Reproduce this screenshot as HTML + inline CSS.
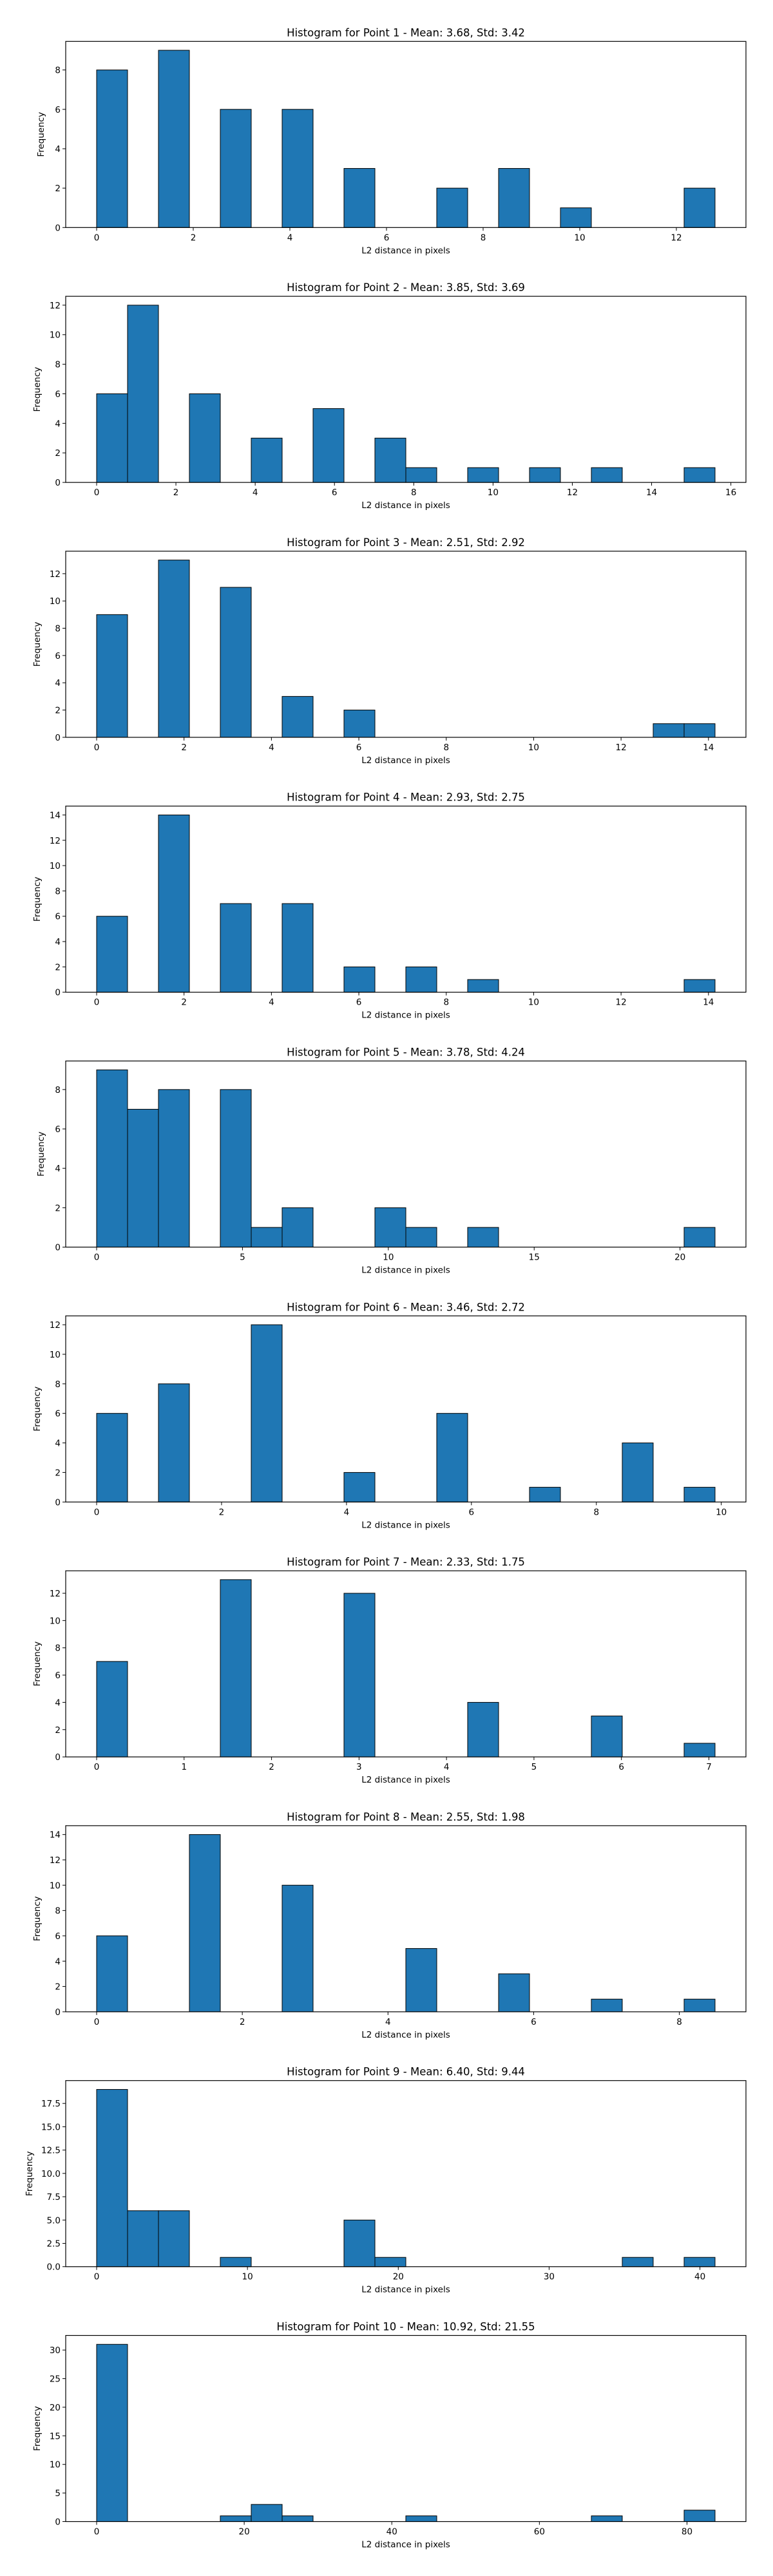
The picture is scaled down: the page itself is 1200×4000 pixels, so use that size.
<!DOCTYPE html>
<html><head><meta charset="utf-8"><style>
body{margin:0;background:#fff;width:1200px;height:4000px;overflow:hidden}
svg{display:block;font-family:"DejaVu Sans","Liberation Sans",sans-serif}
</style></head><body>
<svg id="fig" width="1200" height="4000" xmlns="http://www.w3.org/2000/svg"></svg>
<script>
const titles = ["Histogram for Point 1 - Mean: 3.68, Std: 3.42","Histogram for Point 2 - Mean: 3.85, Std: 3.69","Histogram for Point 3 - Mean: 2.51, Std: 2.92","Histogram for Point 4 - Mean: 2.93, Std: 2.75","Histogram for Point 5 - Mean: 3.78, Std: 4.24","Histogram for Point 6 - Mean: 3.46, Std: 2.72","Histogram for Point 7 - Mean: 2.33, Std: 1.75","Histogram for Point 8 - Mean: 2.55, Std: 1.98","Histogram for Point 9 - Mean: 6.40, Std: 9.44","Histogram for Point 10 - Mean: 10.92, Std: 21.55"];
const dataMax = [12.8, 15.6, 14.15, 14.15, 21.2, 9.9, 7.07, 8.49, 41.0, 83.8];
const counts1 = [8,0,9,0,6,0,6,0,3,0,0,2,0,3,0,1,0,0,0,2];
const counts2 = [6,12,0,6,0,3,0,5,0,3,1,0,1,0,1,0,1,0,0,1];
const counts3 = [9,0,13,0,11,0,3,0,2,0,0,0,0,0,0,0,0,0,1,1];
const counts4 = [6,0,14,0,7,0,7,0,2,0,2,0,1,0,0,0,0,0,0,1];
const counts5 = [9,7,8,0,8,1,2,0,0,2,1,0,1,0,0,0,0,0,0,1];
const counts6 = [6,0,8,0,0,12,0,0,2,0,0,6,0,0,1,0,0,4,0,1];
const counts7 = [7,0,0,0,13,0,0,0,12,0,0,0,4,0,0,0,3,0,0,1];
const counts8 = [6,0,0,14,0,0,10,0,0,0,5,0,0,3,0,0,1,0,0,1];
const counts9 = [19,6,6,0,1,0,0,0,5,1,0,0,0,0,0,0,0,1,0,1];
const counts10 = [31,0,0,0,1,3,1,0,0,0,1,0,0,0,0,0,1,0,0,2];
const allCounts = [counts1,counts2,counts3,counts4,counts5,counts6,counts7,counts8,counts9,counts10];
const xTicks = [[0,2,4,6,8,10,12],[0,2,4,6,8,10,12,14,16],[0,2,4,6,8,10,12,14],[0,2,4,6,8,10,12,14],[0,5,10,15,20],[0,2,4,6,8,10],[0,1,2,3,4,5,6,7],[0,2,4,6,8],[0,10,20,30,40],[0,20,40,60,80]];
const yTicks = [[0,2,4,6,8],[0,2,4,6,8,10,12],[0,2,4,6,8,10,12],[0,2,4,6,8,10,12,14],[0,2,4,6,8],[0,2,4,6,8,10,12],[0,2,4,6,8,10,12],[0,2,4,6,8,10,12,14],[0,2.5,5,7.5,10,12.5,15,17.5],[0,5,10,15,20,25,30]];
const yFmt = [0,0,0,0,0,0,0,0,1,0];

const NS="http://www.w3.org/2000/svg";
const svg=document.getElementById('fig');
function mk(tag,attrs,parent){const e=document.createElementNS(NS,tag);for(const k in attrs)e.setAttribute(k,attrs[k]);(parent||svg).appendChild(e);return e;}
const L=102,R=1158,H=289;
const CX=(L+R)/2;
for(let p=0;p<10;p++){
  const top=64.3+395.8*p, bot=top+H;
  const g=mk('g',{});
  
  
  const c=allCounts[p], mx=dataMax[p];
  const x0=-0.05*mx, x1=mx*1.05;
  const ymax=Math.max(...c)*1.05;
  const sx=v=>L+(v-x0)/(x1-x0)*(R-L);
  const sy=v=>bot-v/ymax*H;
  const bw=mx/20;
  c.forEach((v,i)=>{
    const xa=sx(i*bw), xb=sx((i+1)*bw);
    const r=mk('rect',{x:xa,y:sy(v),width:xb-xa,height:bot-sy(v),fill:'#1f77b4',stroke:'#000','stroke-width':1},g);
    
    
  });
  const fr=mk('rect',{x:L,y:top,width:R-L,height:H,fill:'none',stroke:'#000','stroke-width':1.2},g);
  
  
  xTicks[p].forEach(t=>{
    const x=sx(t);
    mk('line',{x1:x,x2:x,y1:bot,y2:bot+5,stroke:'#000'},g);
    const tx=mk('text',{x:x,y:bot+20,'text-anchor':'middle','font-size':13.5,fill:'#000'},g);
    tx.textContent=t;
    
    
  });
  yTicks[p].forEach(t=>{
    const y=sy(t);
    mk('line',{x1:L-5,x2:L,y1:y,y2:y,stroke:'#000'},g);
    const tx=mk('text',{x:L-8,y:y+5,'text-anchor':'end','font-size':13.5,fill:'#000'},g);
    tx.textContent=yFmt[p]?t.toFixed(1):t;
    
    
  });
  const ti=mk('text',{x:CX,y:top-8,'text-anchor':'middle','font-size':16.5,fill:'#000'},g);
  ti.textContent=titles[p];
  
  
  const xl=mk('text',{x:CX,y:bot+40,'text-anchor':'middle','font-size':13.5,fill:'#000'},g);
  xl.textContent='L2 distance in pixels';
  
  
  const ylx=yFmt[p]?50:(p===9||Math.max(...c)>=10?62:68);
  const yl=mk('text',{x:ylx,y:top+H/2,'text-anchor':'middle','font-size':13.5,fill:'#000',transform:`rotate(-90 ${ylx} ${top+H/2})`},g);
  yl.textContent='Frequency';
  
  
}
</script>
</body></html>
